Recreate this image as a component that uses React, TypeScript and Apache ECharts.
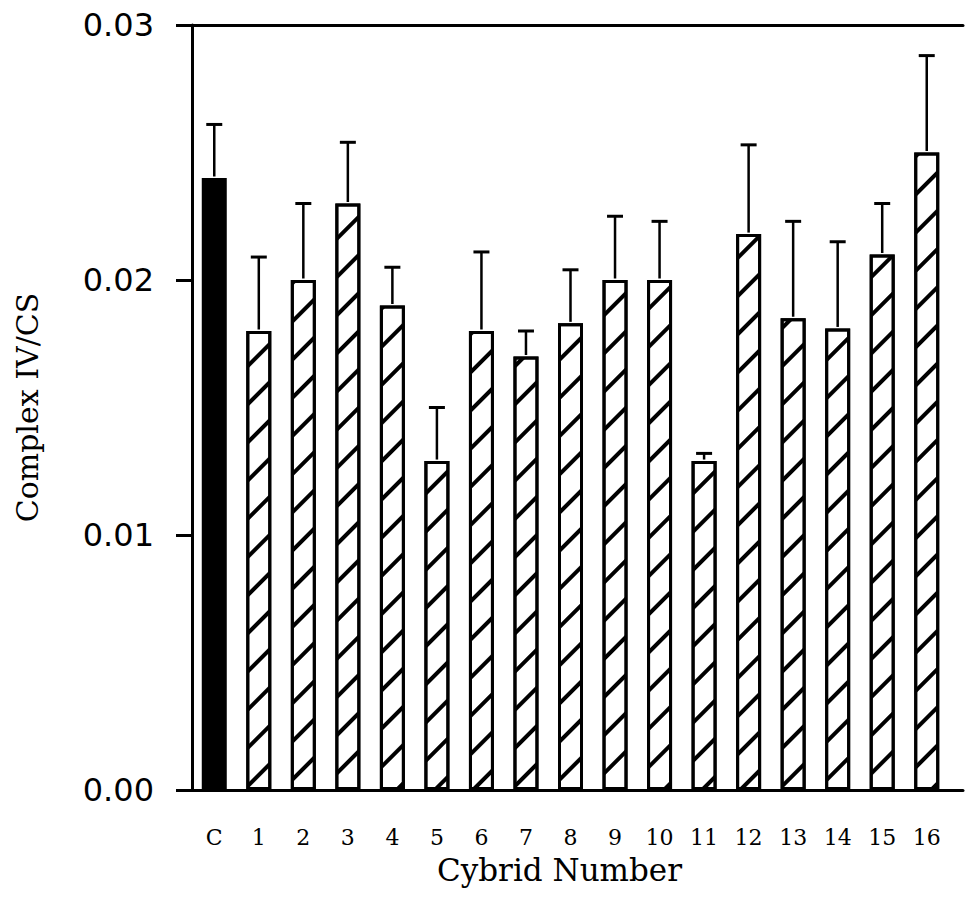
import React, { useEffect, useRef } from "react";
import * as echarts from "echarts";

const categories = ["C", "1", "2", "3", "4", "5", "6", "7", "8", "9", "10", "11", "12", "13", "14", "15", "16"];
const means = [0.024, 0.018, 0.02, 0.023, 0.019, 0.0129, 0.018, 0.017, 0.0183, 0.02, 0.02, 0.0129, 0.0218, 0.0185, 0.0181, 0.021, 0.025];
const errors = [0.0021, 0.0029, 0.003, 0.0024, 0.0015, 0.0021, 0.0031, 0.001, 0.0021, 0.0025, 0.0023, 0.0003, 0.0035, 0.0038, 0.0034, 0.002, 0.0038];
const yMin = 0;
const yMax = 0.03;
const yInterval = 0.01;

export default function App() {
  const ref = useRef<HTMLDivElement>(null);
  useEffect(() => {
    const chart = echarts.init(ref.current!, null, { renderer: "svg" });
    const hatch = {
      symbol: "rect",
      symbolSize: 1,
      dashArrayX: [1, 0],
      dashArrayY: [4, 23],
      rotation: -Math.PI / 4,
      color: "#000",
      backgroundColor: "#fff",
    };
    const barData = means.map((v, i) =>
      i === 0
        ? { value: v, itemStyle: { color: "#000", borderColor: "#000", borderWidth: 3 } }
        : { value: v, itemStyle: { color: "#fff", borderColor: "#000", borderWidth: 3, decal: hatch } }
    );
    const errData = means.map((v, i) => [i, v, v + errors[i]]);
    chart.setOption({
      animation: false,
      backgroundColor: "#fff",
      grid: [
        { left: 192, width: 757, top: 25, bottom: 131, containLabel: false },
        { left: 192, right: 2, top: 25, bottom: 131, containLabel: false },
      ],
      xAxis: [
        {
          type: "category",
          gridIndex: 0,
          data: categories,
          boundaryGap: true,
          axisLine: { show: true, lineStyle: { color: "#000", width: 3 } },
          axisTick: { show: false },
          axisLabel: {
            color: "#000",
            fontFamily: "DejaVu Serif",
            fontSize: 22,
            margin: 36,
          },
          name: "Cybrid Number",
          nameLocation: "middle",
          nameGap: 64,
          nameTextStyle: {
            color: "#000",
            fontFamily: "DejaVu Serif",
            fontSize: 31,
            padding: [0, 22, 0, 0],
          },
        },
        {
          type: "value",
          gridIndex: 1,
          position: "bottom",
          min: 0,
          max: 1,
          axisLine: { show: true, lineStyle: { color: "#000", width: 3 } },
          axisTick: { show: false },
          axisLabel: { show: false },
          splitLine: { show: false },
        },
        {
          type: "value",
          gridIndex: 1,
          position: "top",
          min: 0,
          max: 1,
          axisLine: { show: true, lineStyle: { color: "#000", width: 3 } },
          axisTick: { show: false },
          axisLabel: { show: false },
          splitLine: { show: false },
        },
      ],
      yAxis: [
        {
          type: "value",
          gridIndex: 0,
          min: yMin,
          max: yMax,
          interval: yInterval,
          axisLine: { show: true, lineStyle: { color: "#000", width: 3 } },
          axisTick: { show: true, inside: false, length: 16, lineStyle: { color: "#000", width: 3 } },
          splitLine: { show: false },
          axisLabel: {
            color: "#000",
            fontFamily: "DejaVu Sans",
            fontSize: 32,
            margin: 38,
            formatter: (v: number) => v.toFixed(2),
          },
          name: "Complex IV/CS",
          nameLocation: "middle",
          nameGap: 150,
          nameRotate: 90,
          nameTextStyle: {
            color: "#000",
            fontFamily: "DejaVu Serif",
            fontSize: 30,
          },
        },
        {
          type: "value",
          gridIndex: 1,
          min: 0,
          max: 1,
          show: false,
        },
      ],
      series: [
        {
          type: "bar",
          xAxisIndex: 0,
          yAxisIndex: 0,
          barWidth: 25,
          data: barData,
        },
        {
          type: "custom",
          xAxisIndex: 0,
          yAxisIndex: 0,
          data: errData,
          z: 5,
          renderItem: (params: any, api: any) => {
            const base = api.coord([api.value(0), api.value(1)]);
            const top = api.coord([api.value(0), api.value(2)]);
            const half = 8;
            return {
              type: "group",
              children: [
                {
                  type: "line",
                  shape: { x1: top[0], y1: base[1] - 1.5, x2: top[0], y2: top[1] },
                  style: { stroke: "#000", lineWidth: 2.5 },
                },
                {
                  type: "line",
                  shape: { x1: top[0] - half, y1: top[1], x2: top[0] + half, y2: top[1] },
                  style: { stroke: "#000", lineWidth: 3 },
                },
              ],
            };
          },
        },
      ],
    });
    return () => chart.dispose();
  }, []);
  return (
    <div
      ref={ref}
      style={{ position: "fixed", left: 0, top: 0, width: 965, height: 921, background: "#fff" }}
    />
  );
}
